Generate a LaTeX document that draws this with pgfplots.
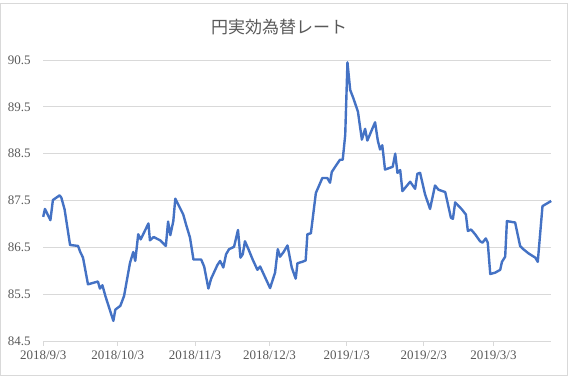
\documentclass[border=0pt]{standalone}
\usepackage{fontspec}
\setmainfont{Liberation Serif}
\newfontfamily\cjk{Noto Sans CJK JP}
\usepackage{pgfplots}
\pgfplotsset{compat=1.18}
\definecolor{lineblue}{HTML}{4472C4}
\definecolor{gridgray}{HTML}{D9D9D9}
\definecolor{txtgray}{HTML}{595959}
\pgfplotstableread{
day val
0 87.15
0.7 87.32
2.9 87.08
3.9 87.51
6.6 87.61
7.3 87.56
8.6 87.31
10.8 86.55
14.0 86.53
14.9 86.40
16.0 86.28
18.0 85.71
22.0 85.77
22.8 85.62
23.8 85.69
25.0 85.46
28.2 84.93
29.0 85.17
31.0 85.25
32.5 85.46
34.9 86.17
36.2 86.40
37.0 86.21
38.2 86.78
39.2 86.67
42.3 87.01
42.9 86.65
44.4 86.72
47.0 86.65
49.3 86.53
50.2 87.05
51.1 86.76
52.3 87.06
53.1 87.54
55.0 87.34
56.3 87.20
57.4 86.99
59.0 86.71
60.4 86.24
63.5 86.24
64.7 86.09
66.4 85.62
67.5 85.83
70.0 86.12
71.1 86.21
72.4 86.07
73.5 86.35
74.7 86.46
76.7 86.51
78.3 86.87
79.3 86.28
80.2 86.35
81.1 86.63
82.5 86.46
84.2 86.24
86.1 86.02
87.2 86.09
89.2 85.86
91.2 85.63
93.2 85.96
94.3 86.46
95.2 86.30
96.5 86.39
98.2 86.54
99.9 86.07
101.5 85.83
102.2 86.16
104.1 86.19
105.5 86.22
106.2 86.78
107.6 86.80
109.6 87.66
112.2 87.98
114.2 87.98
115.3 87.88
116.0 88.11
118.0 88.27
119.3 88.37
120.4 88.37
121.4 88.90
122.3 90.45
123.4 89.86
124.7 89.68
126.5 89.40
128.1 88.80
129.4 89.03
130.3 88.78
133.4 89.17
134.5 88.78
135.4 88.59
136.3 88.68
137.4 88.16
140.5 88.22
141.5 88.50
142.4 88.09
143.5 88.15
144.4 87.70
147.5 87.90
149.5 87.75
150.4 88.07
151.5 88.09
153.5 87.63
155.5 87.32
157.5 87.82
158.9 87.73
161.6 87.68
163.9 87.13
164.7 87.11
165.6 87.46
168.3 87.31
169.9 87.20
170.7 86.85
172.0 86.88
173.6 86.78
175.6 86.63
176.6 86.60
177.9 86.69
178.7 86.60
179.7 85.93
181.7 85.96
183.7 86.02
184.4 86.19
185.7 86.30
186.4 87.06
189.7 87.03
191.7 86.53
193.0 86.46
195.1 86.37
197.8 86.28
198.8 86.19
200.7 87.38
204.2 87.49
}\datatable
\begin{document}
\begin{tikzpicture}[x=1pt,y=1pt]
\path[use as bounding box] (0,0) rectangle (579,379);
\draw[gridgray, line width=0.8pt] (0.5,3.5) rectangle (567,375.5);
\node[txtgray, font=\cjk\fontsize{17}{20}\selectfont] at (279,352) {円実効為替レート};
\begin{axis}[at={(43.2pt,38pt)}, anchor=south west, scale only axis,
  width=508pt, height=281pt,
  xmin=0, xmax=204.2, ymin=84.5, ymax=90.5,
  ytick={84.5,85.5,86.5,87.5,88.5,89.5,90.5},
  xtick={0,30,61,91,122,153,181},
  xticklabels={2018/9/3,2018/10/3,2018/11/3,2018/12/3,2019/1/3,2019/2/3,2019/3/3},
  axis x line*=bottom, axis y line*=left,
  x axis line style={gridgray, line width=0.8pt, -},
  y axis line style={draw=none},
  ytick style={draw=none},
  xtick style={gridgray, line width=0.8pt},
  tick align=outside, major tick length=5pt,
  ymajorgrids, grid style={gridgray, line width=0.8pt},
  ticklabel style={txtgray, font=\fontsize{13}{15}\selectfont},
  /pgf/number format/assume math mode=true,
  yticklabel={\pgfmathprintnumber[fixed,fixed zerofill,precision=1]{\tick}},
  yticklabel style={anchor=east, xshift=-4pt},
  xticklabel style={yshift=-1pt},
  clip=false,
]
\addplot[lineblue, line width=2.4pt, line join=round] table[x=day,y=val] {\datatable};
\end{axis}
\end{tikzpicture}
\end{document}
